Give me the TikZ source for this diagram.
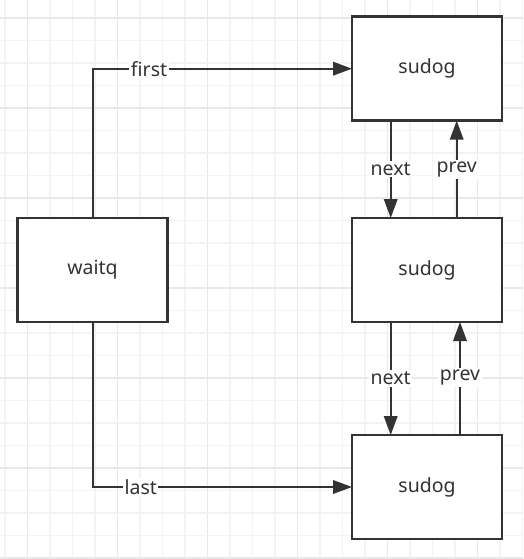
\documentclass[tikz,border=0pt]{standalone}
\usepackage{fontspec}
\setmainfont{Noto Sans}
\usetikzlibrary{arrows.meta}
\definecolor{ink}{HTML}{333333}
\definecolor{gridminor}{HTML}{F3F3F3}
\definecolor{gridmajor}{HTML}{E8E8E8}
\tikzset{
  box/.style={draw=ink, line width=2.6pt, fill=white, minimum width=150pt, minimum height=104pt, inner sep=0pt, outer sep=0pt, text=ink, font=\fontsize{19.5}{23}\selectfont},
  conn/.style={draw=ink, line width=2pt, -{Triangle[length=19pt,width=13.5pt]}},
  lbl/.style={fill=white, text=ink, inner sep=1.5pt, font=\fontsize{19.5}{23}\selectfont},
}
\begin{document}
\begin{tikzpicture}[x=1pt,y=-1pt]
\useasboundingbox (0,0) rectangle (523,559);
\fill[white] (0,0) rectangle (523,559);
% grid
\foreach \k in {0,...,23} {
  \pgfmathsetmacro{\gx}{5+22.5*\k}
  \pgfmathtruncatemacro{\m}{mod(\k,4)}
  \ifnum\m=1
    \draw[gridmajor, line width=1.3pt] (\gx,0) -- (\gx,559);
  \else
    \draw[gridminor, line width=1.1pt] (\gx,0) -- (\gx,559);
  \fi
}
\foreach \k in {0,...,24} {
  \pgfmathsetmacro{\gy}{18+22.5*\k}
  \pgfmathtruncatemacro{\m}{mod(\k,4)}
  \ifnum\m=0
    \draw[gridmajor, line width=1.3pt] (0,\gy) -- (523,\gy);
  \else
    \draw[gridminor, line width=1.1pt] (0,\gy) -- (523,\gy);
  \fi
}
% boxes
\node[box] (waitq) at (92.5,270) {waitq};
\node[box] (s1) at (427,68.7) {sudog};
\node[box] (s2) at (427,270) {sudog};
\node[box] (s3) at (427,487) {sudog};
% connectors
\draw[conn] (waitq.north) |- (s1.west) node[lbl, pos=0.609] {first};
\draw[conn] (waitq.south) |- (s3.west) node[lbl, pos=0.593] {last};
\draw[conn] ([xshift=-36.3pt]s1.south) -- ([xshift=-36.3pt]s2.north) node[lbl, midway] {next};
\draw[conn] ([xshift=29.7pt]s2.north) -- ([xshift=29.7pt]s1.south) node[lbl, midway] {prev};
\draw[conn] ([xshift=-36.3pt]s2.south) -- ([xshift=-36.3pt]s3.north) node[lbl, midway] {next};
\draw[conn] ([xshift=33pt]s3.north) -- ([xshift=33pt]s2.south) node[lbl, pos=0.51] {prev};
\end{tikzpicture}
\end{document}
